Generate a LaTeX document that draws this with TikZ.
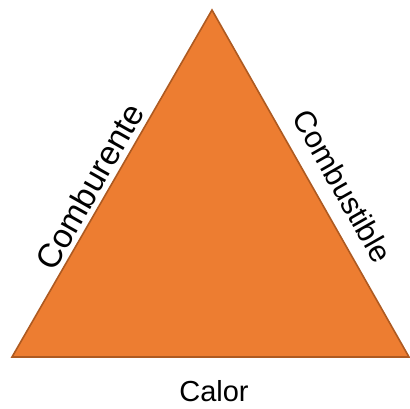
\documentclass[tikz,border=0pt]{standalone}
\usepackage{fontspec}
\setmainfont{Liberation Sans}
\usepackage{tikz}

\definecolor{fireorange}{HTML}{ED7D31}
\definecolor{fireedge}{HTML}{AE5A21}

\begin{document}
\begin{tikzpicture}[x=1pt, y=1pt, every node/.style={font=\fontsize{29}{34}\selectfont, inner sep=0pt}]
    \useasboundingbox (0,0) rectangle (410,408);
    \tikzset{sidelabel/.style={text=black}}

    % Corners of the triangle
    \coordinate (top) at (212,398);
    \coordinate (left) at (12,51);
    \coordinate (right) at (409,51);

    % Triangle
    \draw[fill=fireorange, draw=fireedge, line width=1.6pt, line join=miter] (top) -- (right) -- (left) -- cycle;

    % Labels
    \node[sidelabel, rotate=60.5, font=\fontsize{33.5}{38}\selectfont] (comburente) at (89.5,221.5) {Comburente};
    \node[sidelabel, rotate=-60.4, font=\fontsize{30.5}{36}\selectfont] (combustible) at (342.5,222) {Combustible};
    \node[sidelabel] (calor) at (214,17) {Calor};
\end{tikzpicture}
\end{document}
